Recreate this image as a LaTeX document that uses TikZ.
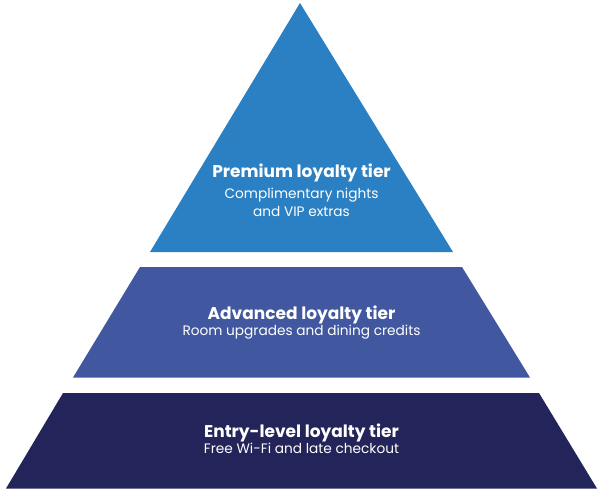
\documentclass[tikz,border=0pt]{standalone}
\usepackage{fontspec}
\setmainfont{Poppins}
\definecolor{tierA}{HTML}{2B80C4}
\definecolor{tierB}{HTML}{4157A0}
\definecolor{tierC}{HTML}{23255A}
\begin{document}
\begin{tikzpicture}[x=1pt,y=-1pt,
  ttl/.style={text=white,font=\bfseries\fontsize{17}{20}\selectfont,inner sep=0pt,anchor=base},
  sub/.style={text=white,font=\fontsize{13.7}{18.5}\selectfont,inner sep=0pt,align=center,anchor=base}]
\useasboundingbox (0,0) rectangle (600,492);
\fill[tierA] (300,3) coordinate (apex) -- (453,252) -- (150,252) -- cycle;
\fill[tierB] (140,267) -- (462,267) -- (530,377.5) -- (73,377.5) -- cycle;
\fill[tierC] (63,393) -- (539,393) -- (597,488.5) -- (6,488.5) -- cycle;
\node[ttl] (t1) at (301.5,178) {Premium loyalty tier};
\node[sub] (s1) at (301.5,198) {Complimentary nights};
\node[sub] (s1b) at (301.5,216.5) {and VIP extras};
\node[ttl] (t2) at (301.5,319) {Advanced loyalty tier};
\node[sub] (s2) at (301.5,335) {Room upgrades and dining credits};
\node[ttl] (t3) at (301.5,437.5) {Entry-level loyalty tier};
\node[sub] (s3) at (301.5,453.5) {Free Wi-Fi and late checkout};
\end{tikzpicture}
\end{document}
